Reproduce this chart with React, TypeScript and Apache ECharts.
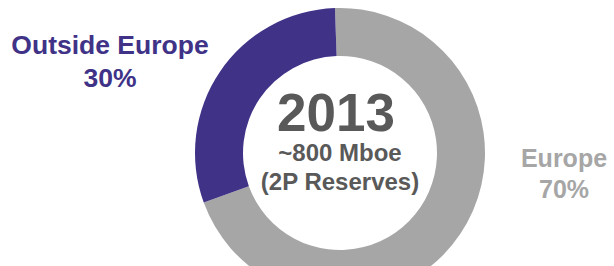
import React, { useEffect, useRef } from "react";
import * as echarts from "echarts";

const categories = ["Europe", "Outside Europe"];
const shares = [70, 30];
const sliceColors = ["#A6A6A6", "#403387"];
const centerTitle = "2013";
const centerLines = ["~800 Mboe", "(2P Reserves)"];

const FONT = '"Liberation Sans", Arial, sans-serif';

export default function App() {
  const ref = useRef<HTMLDivElement>(null);
  useEffect(() => {
    if (!ref.current) return;
    const chart = echarts.init(ref.current, null, { renderer: "svg" });
    const data = categories.map((name, i) => ({
      name,
      value: shares[i],
      itemStyle: { color: sliceColors[i] },
    }));
    const labelPos = [
      { x: 564, y1: 158, y2: 189, size: 25 },
      { x: 110, y1: 45, y2: 78, size: 26.5 },
    ];
    const labelGraphics: any[] = [];
    categories.forEach((name, i) => {
      const p = labelPos[i];
      labelGraphics.push({
        type: "text",
        x: p.x,
        y: p.y1,
        style: {
          text: name,
          fill: sliceColors[i],
          font: `bold ${p.size}px ${FONT}`,
          textAlign: "center",
          textVerticalAlign: "middle",
        },
      });
      labelGraphics.push({
        type: "text",
        x: p.x,
        y: p.y2,
        style: {
          text: `${shares[i]}%`,
          fill: sliceColors[i],
          font: `bold ${p.size}px ${FONT}`,
          textAlign: "center",
          textVerticalAlign: "middle",
        },
      });
    });
    chart.setOption({
      animation: false,
      series: [
        {
          type: "pie",
          center: [340, 153],
          radius: [97, 145],
          startAngle: 92,
          clockwise: true,
          label: { show: false },
          labelLine: { show: false },
          emphasis: { disabled: true },
          data,
        },
      ],
      graphic: [
        {
          type: "text",
          x: 336,
          y: 112,
          style: {
            text: centerTitle,
            fill: "#595959",
            font: `bold 53px ${FONT}`,
            textAlign: "center",
            textVerticalAlign: "middle",
          },
        },
        {
          type: "text",
          x: 340,
          y: 152.5,
          style: {
            text: centerLines[0],
            fill: "#595959",
            font: `bold 24px ${FONT}`,
            textAlign: "center",
            textVerticalAlign: "middle",
          },
        },
        {
          type: "text",
          x: 340,
          y: 181,
          style: {
            text: centerLines[1],
            fill: "#595959",
            font: `bold 24px ${FONT}`,
            textAlign: "center",
            textVerticalAlign: "middle",
          },
        },
        ...labelGraphics,
      ],
    });
    return () => chart.dispose();
  }, []);
  return (
    <div
      ref={ref}
      style={{ position: "fixed", left: 0, top: 0, width: 614, height: 266, background: "#fff" }}
    />
  );
}
